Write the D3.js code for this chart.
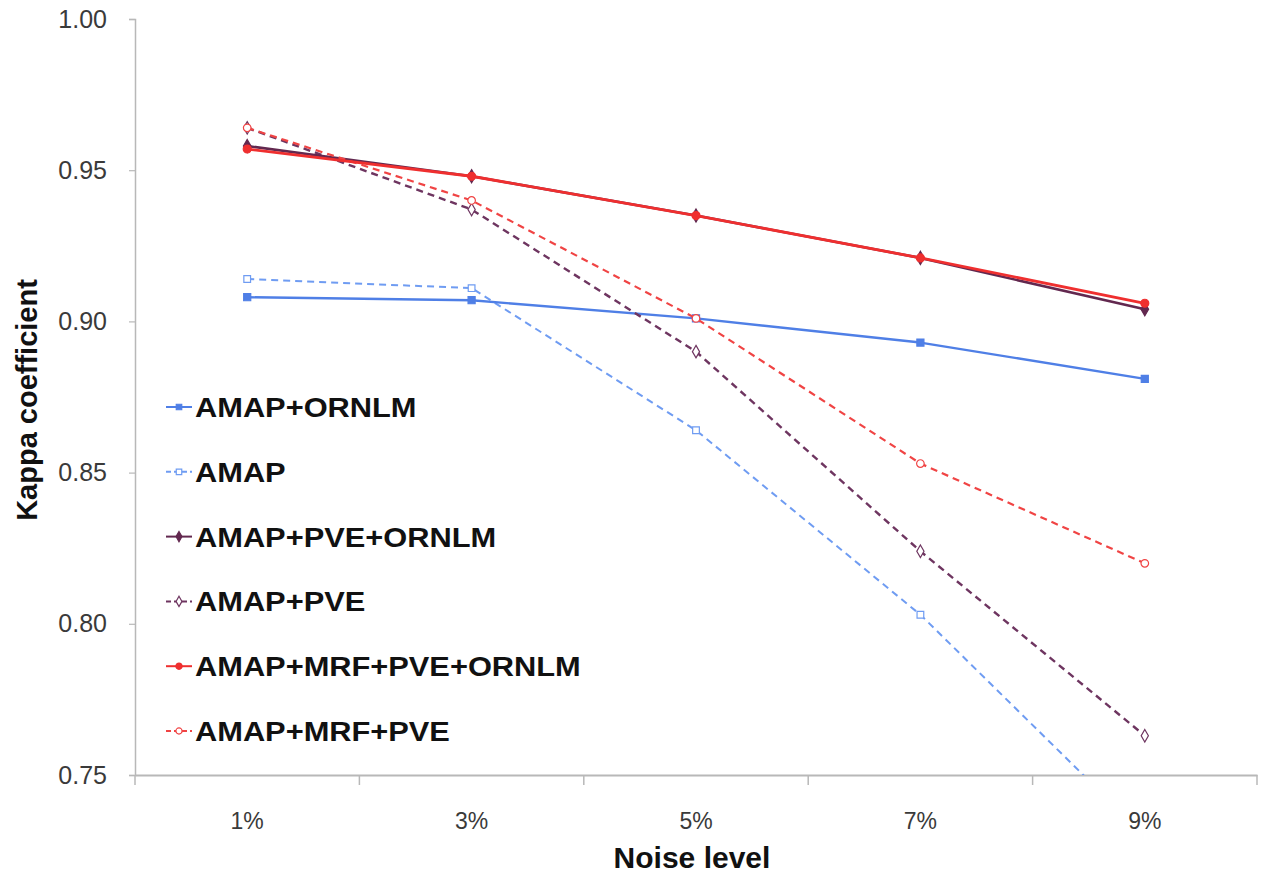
<!DOCTYPE html>
<html><head><meta charset="utf-8">
<script src="https://cdn.jsdelivr.net/npm/d3@7"></script>
<style>
html,body{margin:0;padding:0;background:#fff;}
svg{display:block;}
</style></head>
<body>
<svg id="chart" width="1265" height="875"></svg>
<script>
const categories = ["1%", "3%", "5%", "7%", "9%"];
const yTicks = [0.75, 0.80, 0.85, 0.90, 0.95, 1.00];
const seriesNames = ["AMAP+ORNLM", "AMAP", "AMAP+PVE+ORNLM", "AMAP+PVE", "AMAP+MRF+PVE+ORNLM", "AMAP+MRF+PVE"];
const amapOrnlm = [0.908, 0.907, 0.901, 0.893, 0.881];
const amap = [0.914, 0.911, 0.864, 0.803, 0.730];
const amapPveOrnlm = [0.958, 0.948, 0.935, 0.921, 0.904];
const amapPve = [0.964, 0.937, 0.890, 0.824, 0.763];
const amapMrfPveOrnlm = [0.957, 0.948, 0.935, 0.921, 0.906];
const amapMrfPve = [0.964, 0.940, 0.901, 0.853, 0.820];

const styles = [
  {color:"#4f7fe6", dash:null, marker:"square", fill:true, w:2.4},
  {color:"#6f9cf2", dash:"7,5", marker:"square", fill:false, w:2},
  {color:"#62284f", dash:null, marker:"diamond", fill:true, w:2.6},
  {color:"#6e3560", dash:"7,5", marker:"diamond", fill:false, w:2.4},
  {color:"#ef2f2f", dash:null, marker:"circle", fill:true, w:2.8},
  {color:"#f04444", dash:"7,5", marker:"circle", fill:false, w:2.2}
];
const values = [amapOrnlm, amap, amapPveOrnlm, amapPve, amapMrfPveOrnlm, amapMrfPve];

const svg = d3.select("#chart");
const L = 135, R = 1257, T = 19, B = 775;
const x = d3.scaleBand().domain(categories).range([L, R]);
const y = d3.scaleLinear().domain([0.75, 1.00]).range([B, T]);

svg.append("defs").append("clipPath").attr("id","plotclip")
  .append("rect").attr("x", L).attr("y", T - 10).attr("width", R - L + 10).attr("height", B - T + 10);

// y axis
const yAxis = svg.append("g").attr("transform", `translate(${L},0)`)
  .call(d3.axisLeft(y).tickValues(yTicks).tickFormat(d3.format(".2f")).tickSize(6).tickPadding(22));
yAxis.select(".domain").attr("stroke", "#b8b8b8").attr("stroke-width", 1.5);
yAxis.selectAll(".tick line").attr("stroke", "#b8b8b8").attr("stroke-width", 1.2);
yAxis.selectAll(".tick text").attr("font-family", "Liberation Sans, Arial, sans-serif")
  .attr("font-size", 25).attr("fill", "#3a3a3a");

// x axis
const xAxis = svg.append("g").attr("transform", `translate(0,${B})`)
  .call(d3.axisBottom(x).tickSize(0).tickPadding(38));
xAxis.select(".domain").attr("stroke", "#b8b8b8").attr("stroke-width", 2);
xAxis.selectAll(".tick text").attr("font-family", "Liberation Sans Narrow, Liberation Sans, Arial, sans-serif")
  .attr("font-size", 23).attr("fill", "#3a3a3a");
const bounds = categories.map(c => x(c)).concat([R]);
xAxis.selectAll("line.bound").data(bounds).enter().append("line").attr("class","bound")
  .attr("x1", d => d).attr("x2", d => d).attr("y1", 0).attr("y2", 10)
  .attr("stroke", "#b8b8b8").attr("stroke-width", 1.5);

// axis titles
svg.append("text").attr("x", 692).attr("y", 868).attr("text-anchor", "middle")
  .attr("font-family", "Liberation Sans, Arial, sans-serif").attr("font-weight", "bold")
  .attr("font-size", 30).attr("fill", "#111").text("Noise level");
svg.append("text").attr("transform", "translate(37,400) rotate(-90)").attr("text-anchor", "middle")
  .attr("font-family", "Liberation Sans, Arial, sans-serif").attr("font-weight", "bold")
  .attr("font-size", 29).attr("fill", "#111").text("Kappa coefficient");

function markerPath(type, size) {
  const sym = type === "square" ? d3.symbolSquare : type === "diamond" ? d3.symbolDiamond : d3.symbolCircle;
  return d3.symbol().type(sym).size(size)();
}

const line = d3.line().x((d, i) => x(categories[i]) + x.bandwidth() / 2).y(d => y(d));
const plot = svg.append("g").attr("clip-path", "url(#plotclip)");
const order = [1, 0, 3, 2, 5, 4];
order.forEach(si => {
  const st = styles[si];
  plot.append("path").datum(values[si]).attr("d", line).attr("fill", "none")
    .attr("stroke", st.color).attr("stroke-width", st.w)
    .attr("stroke-dasharray", st.dash).attr("stroke-linejoin", "round");
  plot.selectAll(null).data(values[si]).enter().append("path")
    .attr("transform", (d, i) => `translate(${x(categories[i]) + x.bandwidth() / 2},${y(d)})`)
    .attr("d", markerPath(st.marker, st.fill ? 50 : 45))
    .attr("fill", st.fill ? st.color : "#fff").attr("stroke", st.color).attr("stroke-width", 1.2);
});

// legend
const lg = svg.append("g");
const ly0 = 407, lstep = 64.8;
seriesNames.forEach((name, i) => {
  const st = styles[i];
  const yy = ly0 + i * lstep;
  lg.append("line").attr("x1", 166).attr("x2", 192).attr("y1", yy).attr("y2", yy)
    .attr("stroke", st.color).attr("stroke-width", 2).attr("stroke-dasharray", st.dash ? "5,3" : null);
  lg.append("path").attr("transform", `translate(179,${yy})`).attr("d", markerPath(st.marker, 30))
    .attr("fill", st.fill ? st.color : "#fff").attr("stroke", st.color).attr("stroke-width", 1.2);
  lg.append("text").attr("transform", `translate(195,${yy + 10}) scale(1.1,1)`)
    .attr("font-family", "Liberation Sans, Arial, sans-serif")
    .attr("font-weight", "bold").attr("font-size", 28).attr("fill", "#111").text(name);
});
</script>
</body></html>
